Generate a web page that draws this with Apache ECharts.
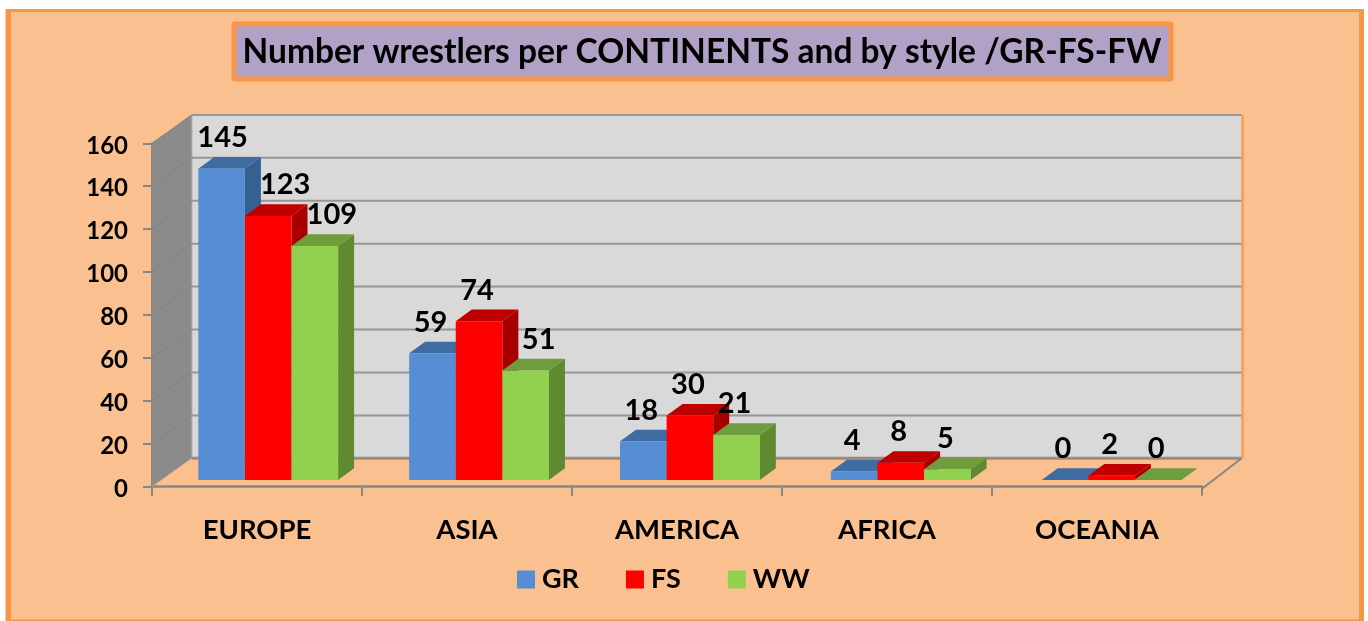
<!DOCTYPE html>
<html>
<head>
<meta charset="utf-8">
<title>Number wrestlers per continents</title>
<script src="https://cdn.jsdelivr.net/npm/echarts@6/dist/echarts.min.js"></script>
<style>
  html, body { margin: 0; padding: 0; background: #fff; }
  #chart { width: 1368px; height: 621px; }
</style>
</head>
<body>
<div id="chart"></div>
<script>
const continents = ["EUROPE", "ASIA", "AMERICA", "AFRICA", "OCEANIA"];
const grValues = [145, 59, 18, 4, 0];
const fsValues = [123, 74, 30, 8, 2];
const wwValues = [109, 51, 21, 5, 0];
const yTicks = [0, 20, 40, 60, 80, 100, 120, 140, 160];

const FONT = "Lato";
// box depth of the fake 3d view, in pixels
const WALL_DX = 39.6, WALL_DY = -28.4;
const BAR_DX = 16, BAR_DY = -11.7;
const BAR_LIFT = 6.7, BAR_W = 46.6, BAR_START = 46.3, BAR_DRIFT = 0.85;

function box(x, y0, y1, w, c) {
  return [
    { type: "polygon", shape: { points: [[x + w, y1], [x + w + BAR_DX, y1 + BAR_DY], [x + w + BAR_DX, y0 + BAR_DY], [x + w, y0]] }, style: { fill: c.side } },
    { type: "polygon", shape: { points: [[x, y1], [x + BAR_DX, y1 + BAR_DY], [x + w + BAR_DX, y1 + BAR_DY], [x + w, y1]] }, style: { fill: c.top } },
    { type: "rect", shape: { x: x, y: y1, width: w, height: y0 - y1 }, style: { fill: c.front } },
  ];
}

function barSeries(name, values, slot, c, nudge) {
  return {
    name: name,
    type: "custom",
    z: 3 + slot,
    itemStyle: { color: c.front },
    encode: { x: 0, y: 1 },
    data: values.map((v, i) => [i, v]),
    renderItem: function (params, api) {
      const i = api.value(0), v = api.value(1);
      const band = api.size([1, 0])[0];
      const left = api.coord([i, 0])[0] - band / 2 + BAR_START + BAR_DRIFT * i + slot * BAR_W;
      const y0 = api.coord([i, 0])[1] - BAR_LIFT;
      const y1 = api.coord([i, v])[1] - BAR_LIFT;
      const kids = box(left, y0, y1, BAR_W, c);
      kids.push({
        type: "text",
        z2: 50,
        x: left + BAR_W / 2 - 2 + (nudge[i] || 0),
        y: y1 - 31,
        style: { text: String(v), fill: "#000", font: "bold 29px " + FONT, align: "center", verticalAlign: "middle" },
      });
      return { type: "group", children: kids };
    },
  };
}

const wallSeries = {
  type: "custom",
  silent: true,
  z: 1,
  encode: { x: 0, y: 1 },
  data: [[0, 0]],
  renderItem: function (params, api) {
    const g = params.coordSys;
    const xl = g.x, xr = g.x + g.width;
    const yb = api.coord([0, 0])[1], yt = api.coord([0, 160])[1];
    const kids = [
      { type: "polygon", shape: { points: [[xl, yt], [xl + WALL_DX, yt + WALL_DY], [xl + WALL_DX, yb + WALL_DY], [xl, yb]] }, style: { fill: "#8b8b8b" } },
      { type: "rect", shape: { x: xl + WALL_DX, y: yt + WALL_DY, width: g.width, height: yb - yt }, style: { fill: "#d9d9d9" } },
      // orange sliver down the right edge of the back wall
      { type: "line", shape: { x1: xr + WALL_DX + 1, y1: yt + WALL_DY, x2: xr + WALL_DX + 1, y2: yb + WALL_DY }, style: { stroke: "#f7a25f", lineWidth: 3 } },
      { type: "line", shape: { x1: xl + WALL_DX, y1: yt + WALL_DY, x2: xl + WALL_DX, y2: yb + WALL_DY }, style: { stroke: "#a0a0a0", lineWidth: 1.5 } },
    ];
    yTicks.forEach((t) => {
      const y = api.coord([0, t])[1];
      kids.push({ type: "line", shape: { x1: xl, y1: y, x2: xl + WALL_DX, y2: y + WALL_DY }, style: { stroke: t === 0 ? "#d8a47c" : "#828282", lineWidth: 1 } });
      kids.push({ type: "line", shape: { x1: xl + WALL_DX, y1: y + WALL_DY, x2: xr + WALL_DX, y2: y + WALL_DY }, style: { stroke: t === 0 ? "#9a8c7e" : "#969696", lineWidth: t === 0 ? 3 : 2 } });
    });
    // floor edge on the right
    kids.push({ type: "line", shape: { x1: xr, y1: yb + 2, x2: xr + WALL_DX, y2: yb + WALL_DY }, style: { stroke: "#868686", lineWidth: 2 } });
    return { type: "group", children: kids };
  },
};

const chart = echarts.init(document.getElementById("chart"));
chart.setOption({
  animation: false,
  backgroundColor: "#fff",
  graphic: [
    { type: "rect", silent: true, z: -10, shape: { x: 5.5, y: 9, width: 1358.5, height: 612 }, style: { fill: "#f79646" } },
    { type: "rect", silent: true, z: -9, shape: { x: 11, y: 12, width: 1348, height: 607.5 }, style: { fill: "#fac090" } },
  ],
  title: {
    text: "Number wrestlers per CONTINENTS and by style /GR-FS-FW",
    left: 233.5,
    top: 23.5,
    padding: [12, 10, 10, 9],
    backgroundColor: "#b2a1c7",
    borderColor: "#f79646",
    borderWidth: 5,
    borderRadius: 1,
    textStyle: { fontFamily: FONT, fontWeight: "bold", fontSize: 33.5, color: "#000" },
  },
  legend: {
    data: ["GR", "FS", "WW"],
    left: 517,
    top: 566,
    padding: 0,
    icon: "rect",
    itemWidth: 18,
    itemHeight: 18,
    itemGap: 47,
    textStyle: { fontFamily: FONT, fontWeight: "bold", fontSize: 27, color: "#000", padding: [0, 0, 0, 2] },
  },
  grid: { left: 152, top: 143.3, width: 1050, height: 343.4 },
  xAxis: {
    type: "category",
    data: continents,
    offset: 2,
    axisLine: { lineStyle: { color: "#868686", width: 2.5 } },
    axisTick: { show: true, length: 9, lineStyle: { color: "#868686", width: 2 } },
    axisLabel: { color: "#000", fontFamily: FONT, fontWeight: "bold", fontSize: 27.5, margin: 27, interval: 0 },
    splitLine: { show: false },
  },
  yAxis: {
    type: "value",
    min: 0,
    max: 160,
    interval: 20,
    axisLine: { show: true, lineStyle: { color: "#868686", width: 2 } },
    axisTick: { show: true, length: 9, lineStyle: { color: "#868686", width: 2 } },
    axisLabel: {
      margin: 24,
      formatter: "{v|{value}}",
      rich: { v: { color: "#000", fontFamily: FONT, fontWeight: "bold", fontSize: 24, padding: [5, 0, 0, 0] } },
    },
    splitLine: { show: false },
  },
  series: [
    wallSeries,
    barSeries("GR", grValues, 0, { front: "#558ed5", side: "#376092", top: "#3e6ca3" }, { 0: 3 }),
    barSeries("FS", fsValues, 1, { front: "#ff0000", side: "#a80000", top: "#c00000" }, { 0: 19 }),
    barSeries("WW", wwValues, 2, { front: "#92d050", side: "#5f8a30", top: "#6f9c3c" }, { 0: 19, 1: 15 }),
  ],
});
</script>
</body>
</html>
